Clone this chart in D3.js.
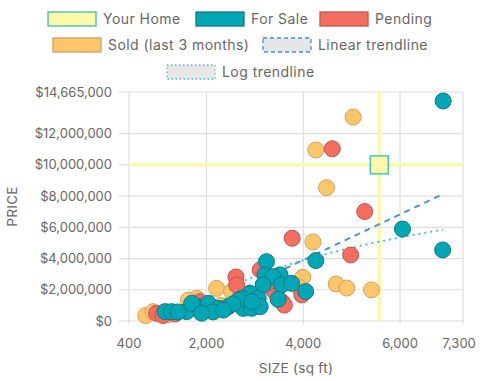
<!DOCTYPE html>
<html><head><meta charset="utf-8">
<script src="https://cdn.jsdelivr.net/npm/d3@7"></script>
<style>body{margin:0;background:#fff}svg text{font-family:'Inter',sans-serif}</style>
</head><body><svg id="c" width="484" height="381"></svg>
<script>
const xTicks = [400, 2000, 4000, 6000, 7300];
const yTicks = [0, 2000000, 4000000, 6000000, 8000000, 10000000, 12000000, 14665000];
const xDomain = [400, 7300];
const yDomain = [0, 14665000];

const yourHome = [5570, 10000000];

const forSale = [[6890,14090000],[6050,5890000],[6880,4550000],[4260,3870000],[4050,1890000],[3240,3800000],[3210,2950000],[3520,2950000],[3370,2840000],[3170,2310000],[3550,2310000],[3760,2410000],[3480,1390000],[2900,1770000],[3070,1450000],[2730,1450000],[2760,810000],[2935,810000],[3110,920000],[2660,1340000],[2935,1240000],[1625,700000],[1830,920000],[2040,1130000],[2245,810000],[2450,920000],[1145,600000],[1280,600000],[1590,600000],[1695,1130000],[2135,580000],[2550,1090000],[1410,580000],[1900,500000],[2350,700000]];

const pending = [[4600,11030000],[5270,7010000],[3770,5300000],[4980,4230000],[3970,1670000],[3110,3270000],[3380,1990000],[3555,1240000],[3610,1020000],[2610,2820000],[2625,2300000],[1865,1240000],[970,490000],[1350,450000],[3300,2500000],[2800,1100000],[1100,350000]];

const sold = [[5030,13060000],[4260,10950000],[4480,8540000],[4200,5060000],[3990,2800000],[4680,2370000],[4900,2110000],[5410,1990000],[3900,2200000],[2210,2090000],[1800,1450000],[745,350000],[900,600000],[1625,1340000],[3450,1700000],[2520,1900000],[3000,1000000],[1200,400000],[2300,1000000]];

const legendItems = ["Your Home","For Sale","Pending","Sold (last 3 months)","Linear trendline","Log trendline"];

const svg = d3.select("#c");
const L = 129, R = 463, T = 92, B = 321;
const x = d3.scaleLinear().domain(xDomain).range([L, R]);
const y = d3.scaleLinear().domain(yDomain).range([B, T]);
const grid = "#dedede", txt = "#666";

// grid
svg.append("g").selectAll("line").data(yTicks).join("line")
  .attr("x1", L-10).attr("x2", R).attr("y1", d=>y(d)).attr("y2", d=>y(d))
  .attr("stroke", grid).attr("stroke-width", 1.2);
svg.append("g").selectAll("line").data(xTicks).join("line")
  .attr("x1", d=>x(d)).attr("x2", d=>x(d)).attr("y1", T).attr("y2", B+3)
  .attr("stroke", grid).attr("stroke-width", 1.2);

// labels
const fmt = d3.format("$,");
svg.append("g").selectAll("text").data(yTicks).join("text")
  .attr("x", 112).attr("y", d=>y(d)).attr("dy","0.35em").attr("text-anchor","end")
  .attr("font-size", 13).attr("fill", txt).text(d=>fmt(d));
svg.append("g").selectAll("text").data(xTicks).join("text")
  .attr("x", (d,i)=> i===xTicks.length-1 ? x(d)-4 : x(d)).attr("y", 348).attr("text-anchor","middle")
  .attr("font-size", 13).attr("fill", txt).text(d=>d3.format(",")(d));
svg.append("text").attr("x", (L+R)/2).attr("y", 373).attr("text-anchor","middle")
  .attr("font-size", 13.5).attr("fill", txt).attr("letter-spacing", 0.3).text("SIZE (sq ft)");
svg.append("text").attr("transform", `translate(17,${(T+B)/2}) rotate(-90)`).attr("text-anchor","middle")
  .attr("font-size", 13.5).attr("fill", txt).attr("letter-spacing", 0.3).text("PRICE");

// crosshair
svg.append("line").attr("x1", x(yourHome[0])).attr("x2", x(yourHome[0])).attr("y1", T).attr("y2", B)
  .attr("stroke", "#fbf8a0").attr("stroke-width", 3);
svg.append("line").attr("x1", L).attr("x2", R).attr("y1", y(yourHome[1])).attr("y2", y(yourHome[1]))
  .attr("stroke", "#fbf8a0").attr("stroke-width", 3);

// trendlines computed from data
const all = forSale.concat(pending, sold);
function fit(fx) {
  const xs = all.map(d=>fx(d[0])), ys = all.map(d=>d[1]);
  const mx = d3.mean(xs), my = d3.mean(ys);
  let sxy=0, sxx=0;
  xs.forEach((v,i)=>{ sxy += (v-mx)*(ys[i]-my); sxx += (v-mx)*(v-mx); });
  const b = sxy/sxx; return [my - b*mx, b];
}
const lin = fit(v=>v), lg = fit(v=>Math.log(v));
const minS = d3.min(all, d=>d[0]), maxS = d3.max(all, d=>d[0]);
const defs = svg.append("defs");
defs.append("clipPath").attr("id","clip").append("rect").attr("x",L).attr("y",T).attr("width",R-L).attr("height",B-T);
const sizes = d3.range(minS, maxS+1, 20);
const lineGen = d3.line().x(d=>x(d[0])).y(d=>y(d[1]));
svg.append("path").attr("clip-path","url(#clip)")
  .attr("d", lineGen(sizes.map(s=>[s, lin[0]+lin[1]*s])))
  .attr("fill","none").attr("stroke","#4a93e6").attr("stroke-width",2).attr("stroke-dasharray","6,5");
svg.append("path").attr("clip-path","url(#clip)")
  .attr("d", lineGen(sizes.map(s=>[s, lg[0]+lg[1]*Math.log(s)])))
  .attr("fill","none").attr("stroke","#45c3d3").attr("stroke-width",2).attr("stroke-dasharray","2,4");

// points
function dots(data, fill, stroke) {
  svg.append("g").selectAll("circle").data(data).join("circle")
    .attr("cx", d=>x(d[0])).attr("cy", d=>y(d[1])).attr("r", 8)
    .attr("fill", fill).attr("stroke", stroke).attr("stroke-width", 1);
}
dots(sold, "#fec66a", "#cfa260");
dots(pending, "#f36d60", "#c5544a");
dots(forSale, "#03a6b5", "#0b7a86");

svg.append("rect").attr("x", x(yourHome[0])-9).attr("y", y(yourHome[1])-9).attr("width",18).attr("height",18)
  .attr("fill","#fcf9a8").attr("stroke","#4ac4c4").attr("stroke-width",1.5);

// legend
const sw = [
  {x:48,y:12,fill:"#fcf9a8",stroke:"#3bbcbc",dash:null},
  {x:196,y:12,fill:"#03a6b5",stroke:"#0b7a86",dash:null},
  {x:320,y:12,fill:"#f36d60",stroke:"#c5544a",dash:null},
  {x:53,y:38,fill:"#fec66a",stroke:"#cfa260",dash:null},
  {x:263,y:38,fill:"#e6e6e6",stroke:"#3a8ff0",dash:"4,3"},
  {x:167,y:65,fill:"#e6e6e6",stroke:"#45c3d3",dash:"1.5,2.5"}
];
const lg2 = svg.append("g").selectAll("g").data(legendItems).join("g");
lg2.append("rect").attr("x",(d,i)=>sw[i].x).attr("y",(d,i)=>sw[i].y).attr("width",48).attr("height",14)
  .attr("fill",(d,i)=>sw[i].fill).attr("stroke",(d,i)=>sw[i].stroke).attr("stroke-width",1.3)
  .attr("stroke-dasharray",(d,i)=>sw[i].dash);
lg2.append("text").attr("x",(d,i)=>sw[i].x+55).attr("y",(d,i)=>sw[i].y+7).attr("dy","0.35em")
  .attr("font-size",14).attr("letter-spacing",0.45).attr("fill",txt).text(d=>d);
</script></body></html>
